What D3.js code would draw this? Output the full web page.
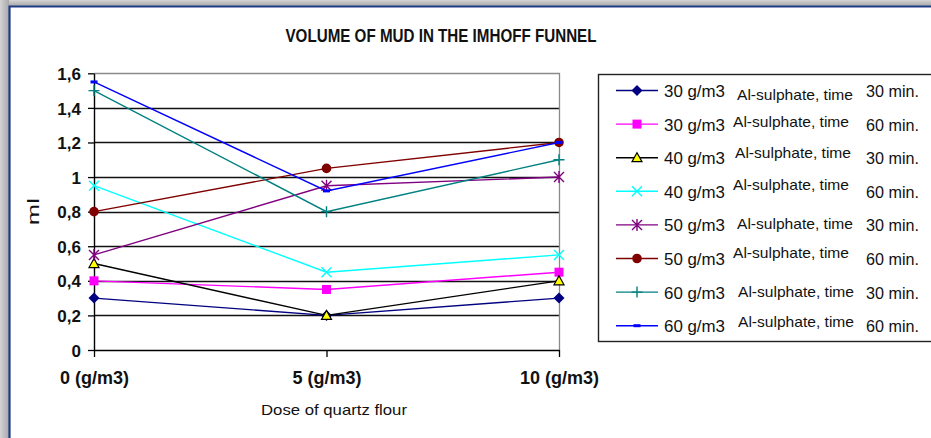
<!DOCTYPE html>
<html>
<head>
<meta charset="utf-8">
<script src="https://cdn.jsdelivr.net/npm/d3@7"></script>
<style>
  html, body { margin: 0; padding: 0; background: #fff; }
  svg { display: block; font-family: "Liberation Sans", Arial, sans-serif; }
</style>
</head>
<body>
<svg id="chart" width="931" height="438"></svg>
<script>
// Dose of quartz flour (category axis)
const doses = ["0 (g/m3)", "5 (g/m3)", "10 (g/m3)"];

// Volume of mud (ml) for each Al-sulphate dose / settling time
const al30_t30 = [0.30, 0.20, 0.30];
const al30_t60 = [0.40, 0.35, 0.45];
const al40_t30 = [0.50, 0.20, 0.40];
const al40_t60 = [0.95, 0.45, 0.55];
const al50_t30 = [0.55, 0.95, 1.00];
const al50_t60 = [0.80, 1.05, 1.20];
const al60_t30 = [1.50, 0.80, 1.10];
const al60_t60 = [1.55, 0.92, 1.20];

const alDoseLabels = ["30 g/m3", "30 g/m3", "40 g/m3", "40 g/m3", "50 g/m3", "50 g/m3", "60 g/m3", "60 g/m3"];
const timeLabels = ["30 min.", "60 min.", "30 min.", "60 min.", "30 min.", "60 min.", "30 min.", "60 min."];
const yTicks = [0, 0.2, 0.4, 0.6, 0.8, 1.0, 1.2, 1.4, 1.6];

const title = "VOLUME OF MUD IN THE IMHOFF FUNNEL";
const xTitle = "Dose of quartz flour";
const yTitle = "ml";

// Series styling
const styles = [
  { color: "#000080", marker: "diamond" },
  { color: "#FF00FF", marker: "square" },
  { color: "#000000", marker: "triangle" },
  { color: "#00FFFF", marker: "x" },
  { color: "#800080", marker: "asterisk" },
  { color: "#800000", marker: "circle" },
  { color: "#008080", marker: "plus" },
  { color: "#0000FF", marker: "dash" }
];
const seriesValues = [al30_t30, al30_t60, al40_t30, al40_t60, al50_t30, al50_t60, al60_t30, al60_t60];
const series = seriesValues.map((values, i) => ({
  values, dose: alDoseLabels[i], time: timeLabels[i], ...styles[i]
}));

const svg = d3.select("#chart");

// Window frame: grey shadow with a dark blue rule
const defs = svg.append("defs");
const gl = defs.append("linearGradient").attr("id", "shadeL").attr("x1", 0).attr("x2", 1).attr("y1", 0).attr("y2", 0);
gl.append("stop").attr("offset", 0).attr("stop-color", "#d4d4d4");
gl.append("stop").attr("offset", 1).attr("stop-color", "#a8a8a8");
const gt = defs.append("linearGradient").attr("id", "shadeT").attr("x1", 0).attr("x2", 0).attr("y1", 0).attr("y2", 1);
gt.append("stop").attr("offset", 0).attr("stop-color", "#d4d4d4");
gt.append("stop").attr("offset", 1).attr("stop-color", "#a8a8a8");
svg.append("rect").attr("x", 0).attr("y", 0).attr("width", 931).attr("height", 6).attr("fill", "url(#shadeT)");
svg.append("rect").attr("x", 0).attr("y", 0).attr("width", 9).attr("height", 438).attr("fill", "url(#shadeL)");
svg.append("path").attr("d", "M9.5,438 V6.5 H931").attr("fill", "none").attr("stroke", "#1f3c86").attr("stroke-width", 2.2);

// Plot area
const plot = { left: 94, right: 559, top: 73.3, bottom: 350 };
const x = d3.scalePoint().domain(doses).range([plot.left, plot.right]);
const y = d3.scaleLinear().domain([0, 1.6]).range([plot.bottom, plot.top]);
const commaFmt = d3.formatLocale({ decimal: ",", thousands: ".", grouping: [3], currency: ["", ""] }).format("~g");

// Gridlines
svg.append("g").selectAll("line").data(yTicks.filter(t => t > 0 && t < 1.6)).join("line")
  .attr("x1", plot.left).attr("x2", plot.right)
  .attr("y1", d => Math.round(y(d)) + 0.5).attr("y2", d => Math.round(y(d)) + 0.5)
  .attr("stroke", "#111").attr("stroke-width", 1.3);
// Plot border (top and right)
svg.append("path")
  .attr("d", `M${plot.left},${Math.round(plot.top) + 0.5} H${plot.right + 0.5} V${plot.bottom}`)
  .attr("fill", "none").attr("stroke", "#8a8a8a").attr("stroke-width", 1.3);

// Y axis
const yAxis = svg.append("g").attr("transform", `translate(${plot.left},0)`)
  .call(d3.axisLeft(y).tickValues(yTicks).tickFormat(commaFmt).tickSize(6).tickSizeOuter(0).tickPadding(7));
yAxis.select(".domain").attr("stroke", "#000").attr("stroke-width", 1.4);
yAxis.selectAll(".tick line").attr("stroke", "#000").attr("stroke-width", 1.3);
yAxis.selectAll(".tick text").attr("font-size", 17).attr("font-weight", "bold").attr("fill", "#111")
  .attr("dy", "0.36em");

// X axis
const xAxis = svg.append("g").attr("transform", `translate(0,${plot.bottom})`)
  .call(d3.axisBottom(x).tickSize(7).tickSizeOuter(0).tickPadding(14));
xAxis.select(".domain").attr("stroke", "#000").attr("stroke-width", 1.4);
xAxis.selectAll(".tick line").attr("stroke", "#000").attr("stroke-width", 1.3);
xAxis.selectAll(".tick text").attr("font-size", 18).attr("font-weight", "bold").attr("fill", "#111")
  .attr("dy", "0.71em");

// Titles
svg.append("text").attr("x", 441).attr("y", 42).attr("text-anchor", "middle")
  .attr("font-size", 18).attr("font-weight", "bold").attr("fill", "#111")
  .attr("textLength", 311).attr("lengthAdjust", "spacingAndGlyphs").text(title);
svg.append("text").attr("x", 334).attr("y", 415).attr("text-anchor", "middle")
  .attr("font-size", 15).attr("fill", "#111")
  .attr("textLength", 146).attr("lengthAdjust", "spacingAndGlyphs").text(xTitle);
svg.append("text").attr("transform", `translate(39,${(plot.top + plot.bottom) / 2}) rotate(-90)`)
  .attr("text-anchor", "middle").attr("font-size", 17).attr("fill", "#111")
  .attr("textLength", 27).attr("lengthAdjust", "spacingAndGlyphs").text(yTitle);

// Marker drawing
function drawMarker(g, type, color, cx, cy) {
  switch (type) {
    case "diamond":
      g.append("path").attr("d", `M${cx},${cy - 5.5} L${cx + 5.5},${cy} L${cx},${cy + 5.5} L${cx - 5.5},${cy} Z`)
        .attr("fill", color);
      break;
    case "square":
      g.append("rect").attr("x", cx - 4.5).attr("y", cy - 4.5).attr("width", 9).attr("height", 9).attr("fill", color);
      break;
    case "triangle":
      g.append("path").attr("d", `M${cx},${cy - 5} L${cx + 5},${cy + 4} L${cx - 5},${cy + 4} Z`)
        .attr("fill", "#ffff00").attr("stroke", "#000").attr("stroke-width", 1.2);
      break;
    case "x":
      g.append("path").attr("d", `M${cx - 5},${cy - 5} L${cx + 5},${cy + 5} M${cx - 5},${cy + 5} L${cx + 5},${cy - 5}`)
        .attr("stroke", color).attr("stroke-width", 1.4);
      break;
    case "asterisk":
      g.append("path").attr("d", `M${cx - 5},${cy - 5} L${cx + 5},${cy + 5} M${cx - 5},${cy + 5} L${cx + 5},${cy - 5} M${cx},${cy - 6} L${cx},${cy + 6}`)
        .attr("stroke", color).attr("stroke-width", 1.4);
      break;
    case "circle":
      g.append("circle").attr("cx", cx).attr("cy", cy).attr("r", 4.8).attr("fill", color);
      break;
    case "plus":
      g.append("path").attr("d", `M${cx - 5.5},${cy} L${cx + 5.5},${cy} M${cx},${cy - 5.5} L${cx},${cy + 5.5}`)
        .attr("stroke", color).attr("stroke-width", 1.4);
      break;
    case "dash":
      g.append("rect").attr("x", cx - 3.5).attr("y", cy - 1.5).attr("width", 7).attr("height", 3).attr("fill", color);
      break;
  }
}

// Series lines and markers
const line = d3.line().x((d, i) => x(doses[i])).y(d => y(d));
const seriesG = svg.append("g");
series.forEach(s => {
  const g = seriesG.append("g");
  g.append("path").attr("d", line(s.values)).attr("fill", "none")
    .attr("stroke", s.color).attr("stroke-width", 1.4);
  s.values.forEach((v, i) => drawMarker(g, s.marker, s.color, x(doses[i]), y(v)));
});

// Legend
const legendBox = { x: 598.5, y: 74.5, w: 360, h: 267 };
svg.append("rect").attr("x", legendBox.x).attr("y", legendBox.y)
  .attr("width", legendBox.w).attr("height", legendBox.h)
  .attr("fill", "#fff").attr("stroke", "#222").attr("stroke-width", 1.4);

const rowY = i => 90.5 + i * 33.6;
// small per-row shifts of the middle caption
const midDx = [737, 733, 735, 733, 737, 733, 738, 738];
const midDy = [4, -2, -5, -6, -1, -6, 0, -4];
const legend = svg.append("g");
series.forEach((s, i) => {
  const cy = rowY(i);
  const g = legend.append("g");
  g.append("line").attr("x1", 616).attr("x2", 658).attr("y1", cy).attr("y2", cy)
    .attr("stroke", s.color).attr("stroke-width", 1.4);
  drawMarker(g, s.marker, s.color, 637, cy);
  g.append("text").attr("x", 664).attr("y", cy + 6.5).attr("font-size", 17).attr("fill", "#111")
    .attr("textLength", 61).attr("lengthAdjust", "spacingAndGlyphs").text(s.dose);
  g.append("text").attr("x", midDx[i]).attr("y", cy + midDy[i] + 5).attr("font-size", 14.5).attr("fill", "#111")
    .attr("textLength", 116).attr("lengthAdjust", "spacingAndGlyphs").text("Al-sulphate, time");
  g.append("text").attr("x", 866).attr("y", cy + 6.5).attr("font-size", 17).attr("fill", "#111")
    .attr("textLength", 53).attr("lengthAdjust", "spacingAndGlyphs").text(s.time);
});
</script>
</body>
</html>
